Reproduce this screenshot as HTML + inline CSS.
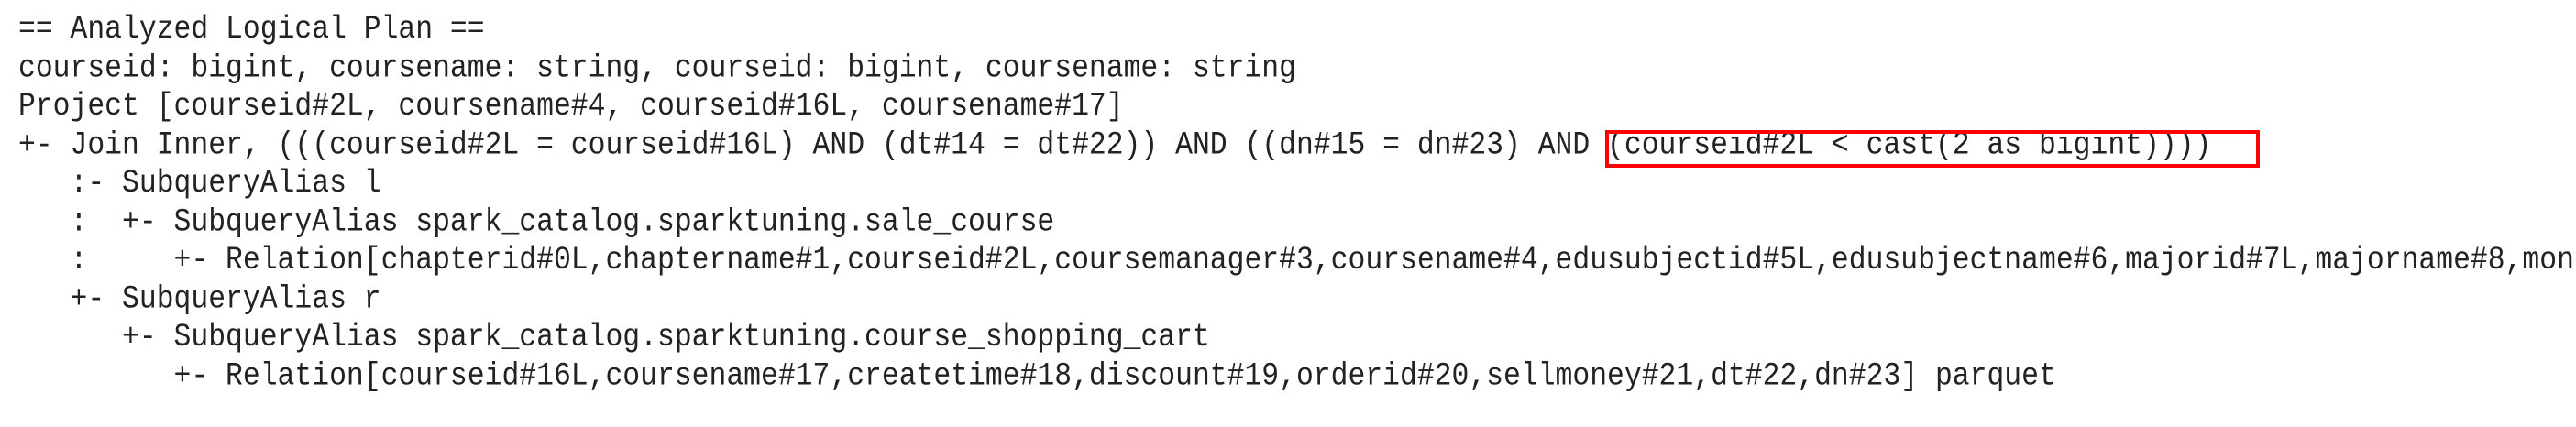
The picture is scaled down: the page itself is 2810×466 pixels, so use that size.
<!DOCTYPE html>
<html><head><meta charset="utf-8"><style>
html,body{margin:0;padding:0;background:#fff;}
body{width:2810px;height:466px;position:relative;overflow:hidden;}
pre{position:absolute;left:20px;top:12px;margin:0;font-family:"Liberation Mono",monospace;font-size:31.4px;line-height:37.5px;color:#222;white-space:pre;transform:scaleY(1.12);transform-origin:0 0;}
.box{position:absolute;left:1751px;top:142px;width:706px;height:33px;border:4px solid #f00;}
</style></head><body>
<pre>== Analyzed Logical Plan ==
courseid: bigint, coursename: string, courseid: bigint, coursename: string
Project [courseid#2L, coursename#4, courseid#16L, coursename#17]
+- Join Inner, (((courseid#2L = courseid#16L) AND (dt#14 = dt#22)) AND ((dn#15 = dn#23) AND (courseid#2L &lt; cast(2 as bigint))))
   :- SubqueryAlias l
   :  +- SubqueryAlias spark_catalog.sparktuning.sale_course
   :     +- Relation[chapterid#0L,chaptername#1,courseid#2L,coursemanager#3,coursename#4,edusubjectid#5L,edusubjectname#6,majorid#7L,majorname#8,money#9
   +- SubqueryAlias r
      +- SubqueryAlias spark_catalog.sparktuning.course_shopping_cart
         +- Relation[courseid#16L,coursename#17,createtime#18,discount#19,orderid#20,sellmoney#21,dt#22,dn#23] parquet</pre>
<div class="box"></div>
</body></html>
